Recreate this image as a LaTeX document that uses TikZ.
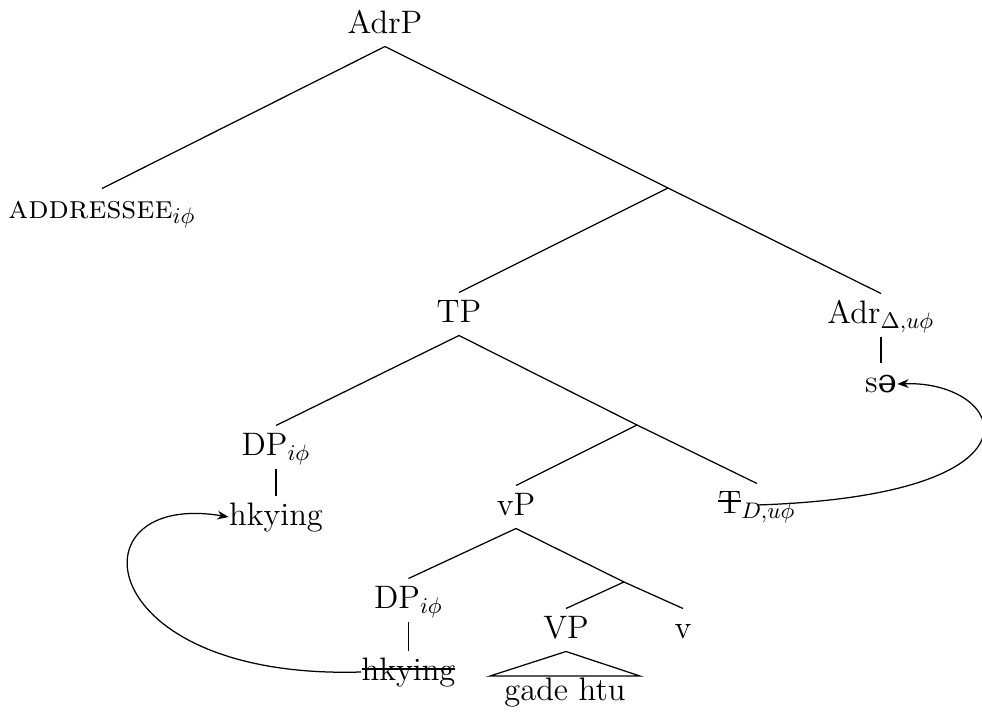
\documentclass[tikz,border=0pt]{standalone}
\usepackage{fontspec}
\newfontfamily\ipafont{DejaVu Serif}
\newcommand\mystrike[2][0.3em]{\setbox0\hbox{#2}\rlap{\rule[#1]{\wd0}{0.055em}}\box0}
\usetikzlibrary{arrows.meta}
\begin{document}
\begin{tikzpicture}[x=0.4pt,y=-0.4pt,
  tn/.style={inner sep=0pt, anchor=base, text height=11.6pt, text depth=5.2pt, font=\fontsize{13}{15}\selectfont},
  br/.style={line width=0.5pt},
  mv/.style={line width=0.5pt, -{Stealth[length=4.5pt,width=3.5pt]}}]
\useasboundingbox (0,0) rectangle (982,714);
% nodes
\node[tn] (adrp) at (385,33) {AdrP};
\node[tn] (addr) at (102,218) {\textsc{addressee}$_{i\phi}$};
\coordinate (n1) at (668,188);
\node[tn] (tp) at (459,322) {TP};
\node[tn] (adr) at (881,323) {Adr$_{\Delta,u\phi}$};
\node[tn] (se) at (881,392) {s{\ipafont\char"0259}};
\node[tn] (dp1) at (276,455) {DP$_{i\phi}$};
\coordinate (n2) at (637,425);
\node[tn] (hk1) at (276,525) {hkying};
\node[tn] (vp) at (516,515) {vP};
\node[tn] (t) at (757,513) {\mystrike[0.33em]{T}$_{D,u\phi}$};
\node[tn] (dp2) at (408.5,608) {DP$_{i\phi}$};
\coordinate (n3) at (624,582);
\node[tn] (hk2) at (408.5,680) {\mystrike{hkying}};
\node[tn] (vvp) at (566,638) {VP};
\node[tn] (v) at (683,638) {v};
\coordinate (trl) at (490,676);
\coordinate (trr) at (640,676);
\node[tn] (gh) at (565,700) {gade htu};
% branches
\draw[br] (adrp.south) -- (addr.north);
\draw[br] (adrp.south) -- (n1);
\draw[br] (n1) -- (tp.north);
\draw[br] (n1) -- (adr.north);
\draw[br] (adr.south) -- (se.north);
\draw[br] (tp.south) -- (dp1.north);
\draw[br] (tp.south) -- (n2);
\draw[br] (dp1.south) -- (hk1.north);
\draw[br] (n2) -- (vp.north);
\draw[br] (n2) -- (t.north);
\draw[br] (vp.south) -- (dp2.north);
\draw[br] (vp.south) -- (n3);
\draw[br] (dp2.south) -- (hk2.north);
\draw[br] (n3) -- (vvp.north);
\draw[br] (n3) -- (v.north);
\draw[br] (vvp.south) -- (trl) -- (trr) -- cycle;
% movement arrows
\draw[mv] (hk2.west) .. controls (90,680) and (70,490) .. (hk1.west);
\draw[mv] (t.center) .. controls (1060,495) and (1005,380) .. (se.east);
\end{tikzpicture}
\end{document}
